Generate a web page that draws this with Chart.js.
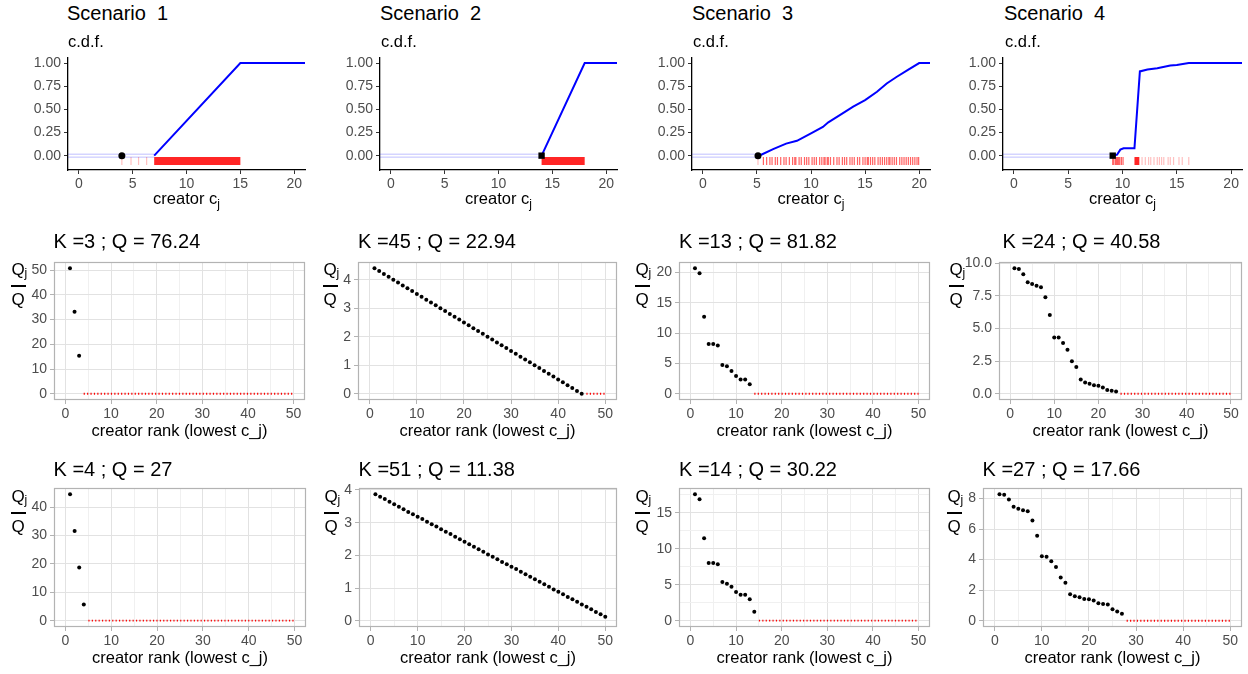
<!DOCTYPE html>
<html>
<head>
<title>Scenarios: c.d.f. and creator shares</title>
<style>
  body { margin: 0; background: #fff; font-family: "Liberation Sans", Arial, Helvetica, sans-serif; }
  #page { position: relative; width: 1248px; height: 674px; overflow: hidden; background: #fff; }
  .box { position: absolute; }
  .txt { position: absolute; line-height: 1; white-space: pre; color: #000; }
  .title { font-size: 20px; }
  .subt { font-size: 16.5px; }
  .axt { font-size: 16.5px; text-align: center; }
  .axt sub { font-size: 12px; vertical-align: -4px; line-height: 0; }
  .fq { font-size: 17px; text-align: center; }
  .fj { font-size: 12px; }
  .fbar { position: absolute; height: 1.5px; background: #000; }
</style>
<script src="https://cdn.jsdelivr.net/npm/chart.js"></script>
</head>
<body>
<div id="page"></div>
<script>
// ---------- data: top row (c.d.f. of creator costs) ----------
const scenarioNames = ['Scenario  1', 'Scenario  2', 'Scenario  3', 'Scenario  4'];
const cdfXTicks = [0, 5, 10, 15, 20];
const cdfYTicks = [0, 0.25, 0.5, 0.75, 1];

const cdf1X = [7, 15, 21];
const cdf1Y = [0, 1, 1];
const start1 = 4;
const rug1Pale = [4.0, 4.85, 5.55, 6.3];
const rug1Dense = [];
const rug1Block = [7, 15];

const cdf2X = [14, 18, 21];
const cdf2Y = [0, 1, 1];
const start2 = 14;
const rug2Pale = [];
const rug2Dense = [];
const rug2Block = [14, 18];

const cdf3X = [5.1, 5.4, 6.5, 7.7, 8.7, 10, 11.1, 11.6, 12.7, 13.9, 15, 16.1, 17, 17.9, 19, 20, 21];
const cdf3Y = [0, 0.01, 0.07, 0.13, 0.16, 0.24, 0.31, 0.36, 0.44, 0.53, 0.6, 0.69, 0.78, 0.85, 0.93, 1, 1];
const start3 = 5.1;
const rug3Pale = [5.1];
const rug3Dense = [5.6, 5.9, 6.2, 6.4, 6.7, 6.9, 7.2, 7.5, 7.7, 8.0, 8.3, 8.5, 8.6, 8.9, 9.1, 9.4, 9.6, 9.8,
  10.1, 10.3, 10.5, 10.8, 11.0, 11.2, 11.3, 11.5, 11.6, 11.8, 12.1, 12.4, 12.6, 12.9, 13.1, 13.3, 13.6,
  13.8, 14.0, 14.3, 14.5, 14.8, 15.0, 15.2, 15.3, 15.5, 15.7, 15.9, 16.2, 16.4, 16.6, 16.8, 17.0, 17.2,
  17.3, 17.5, 17.7, 17.9, 18.2, 18.4, 18.6, 18.8, 19.0, 19.2, 19.4, 19.6, 19.8, 19.95];
const rug3Block = null;

const cdf4X = [9.1, 9.5, 9.8, 10.1, 11.1, 11.6, 12.3, 13.2, 14.4, 15, 16.1, 21];
const cdf4Y = [0, 0.01, 0.065, 0.08, 0.08, 0.91, 0.93, 0.945, 0.975, 0.98, 1, 1];
const start4 = 9.1;
const rug4Pale = [11.8, 12.1, 12.4, 12.6, 12.9, 13.2, 13.4, 13.6, 13.8, 14.2, 14.4, 14.7, 15.2, 15.5, 16.1];
const rug4Dense = [9.1, 9.2, 9.35, 9.45, 9.55, 9.65, 9.75, 9.9, 10.05];
const rug4Block = [11.1, 11.55];

// ---------- data: middle and bottom rows (Q_j / Q by creator rank) ----------
const rankMajor = [0, 10, 20, 30, 40, 50];
const rankMinor = [5, 15, 25, 35, 45];
const maxRank = 50;

const titlesMid = ['K =3 ; Q = 76.24', 'K =45 ; Q = 22.94', 'K =13 ; Q = 81.82', 'K =24 ; Q = 40.58'];
const titlesLow = ['K =4 ; Q = 27', 'K =51 ; Q = 11.38', 'K =14 ; Q = 30.22', 'K =27 ; Q = 17.66'];
const kMid = [3, 45, 13, 24];
const kLow = [4, 51, 14, 27];

const shareMid1 = [50.8, 33.2, 15.4];
const shareMid2 = [4.4, 4.3, 4.2, 4.1, 4.0, 3.9, 3.8, 3.7, 3.6, 3.5, 3.4, 3.3, 3.2, 3.1, 3.0, 2.9, 2.8, 2.7,
  2.6, 2.5, 2.4, 2.3, 2.2, 2.1, 2.0, 1.9, 1.8, 1.7, 1.6, 1.5, 1.4, 1.3, 1.2, 1.1, 1.0, 0.9, 0.8, 0.7, 0.6,
  0.5, 0.4, 0.3, 0.2, 0.1, 0.0];
const shareMid3 = [20.7, 19.9, 12.7, 8.2, 8.2, 7.96, 4.74, 4.52, 3.76, 2.94, 2.34, 2.34, 1.58];
const shareMid4 = [9.62, 9.57, 9.17, 8.54, 8.41, 8.28, 8.16, 7.4, 6.04, 4.32, 4.32, 3.89, 3.38, 2.5, 2.05,
  1.09, 0.86, 0.76, 0.66, 0.61, 0.48, 0.28, 0.23, 0.18];

const shareLow1 = [44.5, 31.6, 18.7, 5.7];
const shareLow2 = [3.87, 3.79, 3.72, 3.64, 3.56, 3.49, 3.41, 3.33, 3.26, 3.18, 3.11, 3.03, 2.95, 2.88, 2.80,
  2.72, 2.65, 2.57, 2.49, 2.42, 2.34, 2.26, 2.19, 2.11, 2.03, 1.96, 1.88, 1.80, 1.73, 1.65, 1.58, 1.50, 1.42,
  1.35, 1.27, 1.19, 1.12, 1.04, 0.96, 0.89, 0.81, 0.73, 0.66, 0.58, 0.50, 0.43, 0.35, 0.27, 0.20, 0.12];
const shareLow3 = [17.57, 16.88, 11.47, 8.03, 8.03, 7.84, 5.37, 5.14, 4.72, 3.99, 3.62, 3.62, 2.98, 1.24];
const shareLow4 = [8.28, 8.24, 7.94, 7.46, 7.33, 7.24, 7.16, 6.57, 5.56, 4.22, 4.19, 3.89, 3.52, 2.83, 2.49,
  1.73, 1.6, 1.54, 1.43, 1.41, 1.32, 1.15, 1.1, 1.06, 0.76, 0.61, 0.45];

const yMajorMid = [[0, 10, 20, 30, 40, 50], [0, 1, 2, 3, 4], [0, 5, 10, 15, 20], [0, 2.5, 5, 7.5, 10]];
const yMinorMid = [[5, 15, 25, 35, 45], [0.5, 1.5, 2.5, 3.5, 4.5], [2.5, 7.5, 12.5, 17.5], [1.25, 3.75, 6.25, 8.75]];
const yMajorLow = [[0, 10, 20, 30, 40], [0, 1, 2, 3, 4], [0, 5, 10, 15], [0, 2, 4, 6, 8]];
const yMinorLow = [[5, 15, 25, 35, 45], [0.5, 1.5, 2.5, 3.5], [2.5, 7.5, 12.5, 17.5], [1, 3, 5, 7]];

// ---------- setup ----------
Chart.defaults.font.family = '"Liberation Sans", Arial, Helvetica, sans-serif';
Chart.defaults.font.size = 14;
Chart.defaults.color = '#4D4D4D';
Chart.defaults.animation = false;
Chart.defaults.plugins.legend.display = false;
Chart.defaults.plugins.tooltip.enabled = false;

const page = document.getElementById('page');
const PAD = 14;
const RUG_Y = -0.058;

const frame = {
  id: 'frame',
  afterDraw(chart) {
    const a = chart.chartArea, ctx = chart.ctx;
    ctx.save();
    ctx.strokeStyle = '#B3B3B3';
    ctx.lineWidth = 1.2;
    ctx.strokeRect(Math.round(a.left) + 0.5, Math.round(a.top) + 0.5,
      Math.round(a.right - a.left) - 1, Math.round(a.bottom - a.top) - 1);
    ctx.restore();
  }
};

function addText(cls, html, left, top, width) {
  const d = document.createElement('div');
  d.className = 'txt ' + cls;
  d.innerHTML = html;
  d.style.left = left + 'px';
  d.style.top = top + 'px';
  if (width) d.style.width = width + 'px';
  page.appendChild(d);
}

function addChart(box, yW, xH, config) {
  const d = document.createElement('div');
  d.className = 'box';
  d.style.left = (box.L - yW) + 'px';
  d.style.top = (box.T - PAD) + 'px';
  d.style.width = (box.R - box.L + yW + PAD) + 'px';
  d.style.height = (box.B - box.T + PAD + xH) + 'px';
  const cv = document.createElement('canvas');
  d.appendChild(cv);
  page.appendChild(d);
  config.options.responsive = true;
  config.options.maintainAspectRatio = false;
  config.options.layout = { padding: { top: PAD, right: PAD, left: 0, bottom: 0 } };
  return new Chart(cv, config);
}

function pts(xs, ys) { return xs.map((v, i) => ({ x: v, y: ys[i] })); }

// ---------- top row ----------
const cdfBoxes = [
  { L: 68, T: 58, R: 305, B: 170 },
  { L: 380, T: 58, R: 617, B: 170 },
  { L: 692, T: 58, R: 930, B: 170 },
  { L: 1003, T: 58, R: 1242, B: 170 }
];
const titleX1 = [67, 380, 692, 1004];
const scen = [
  { x: cdf1X, y: cdf1Y, start: start1, pale: rug1Pale, dense: rug1Dense, block: rug1Block, square: false },
  { x: cdf2X, y: cdf2Y, start: start2, pale: rug2Pale, dense: rug2Dense, block: rug2Block, square: true },
  { x: cdf3X, y: cdf3Y, start: start3, pale: rug3Pale, dense: rug3Dense, block: rug3Block, square: false },
  { x: cdf4X, y: cdf4Y, start: start4, pale: rug4Pale, dense: rug4Dense, block: rug4Block, square: true }
];

function rugSet(vals, color) {
  return { data: vals.map(v => ({ x: v, y: RUG_Y })), pointStyle: 'line', pointRotation: 90, pointRadius: 4,
    pointBorderColor: color, pointBorderWidth: 1.2, pointBackgroundColor: color, showLine: false };
}

scen.forEach((s, i) => {
  const ds = [];
  ds.push({ data: [{ x: s.start, y: 0 }], pointStyle: s.square ? 'rect' : 'circle', pointRadius: s.square ? 4.5 : 3.5,
    pointBackgroundColor: '#000', pointBorderColor: '#000', pointBorderWidth: 0 });
  ds.push({ data: pts(s.x, s.y), showLine: true, borderColor: '#0000FF', borderWidth: 2, pointRadius: 0 });
  [0.016, -0.016].forEach(off => ds.push({ data: [{ x: -1, y: off }, { x: s.x[0], y: off }], showLine: true,
    borderColor: 'rgba(0,0,255,0.25)', borderWidth: 1, pointRadius: 0 }));
  if (s.block) ds.push({ data: [{ x: s.block[0], y: RUG_Y }, { x: s.block[1], y: RUG_Y }], showLine: true,
    borderColor: 'rgba(255,0,0,0.85)', borderWidth: 8, borderCapStyle: 'butt', pointRadius: 0 });
  if (s.dense.length) ds.push(rugSet(s.dense, 'rgba(255,0,0,0.62)'));
  if (s.pale.length) ds.push(rugSet(s.pale, 'rgba(255,0,0,0.25)'));

  addChart(cdfBoxes[i], 45, 24, {
    type: 'scatter',
    data: { datasets: ds },
    options: {
      scales: {
        x: { type: 'linear', min: -1, max: 21,
          afterBuildTicks: sc => { sc.ticks = cdfXTicks.map(v => ({ value: v })); },
          afterFit: sc => { sc.height = 24; },
          ticks: { padding: 2 },
          grid: { drawOnChartArea: false, drawTicks: true, tickLength: 4, tickColor: '#333' },
          border: { display: true, color: '#000', width: 1.3 } },
        y: { type: 'linear', min: -0.155, max: 1.055,
          afterBuildTicks: sc => { sc.ticks = cdfYTicks.map(v => ({ value: v })); },
          afterFit: sc => { sc.width = 45; },
          ticks: { padding: 3, callback: v => v.toFixed(2) },
          grid: { drawOnChartArea: false, drawTicks: true, tickLength: 4, tickColor: '#333' },
          border: { display: true, color: '#000', width: 1.3 } }
      }
    }
  });
});

// ---------- middle and bottom rows ----------
const midBoxes = [
  { L: 54, T: 262, R: 305, B: 400 },
  { L: 358, T: 262, R: 617, B: 400 },
  { L: 679, T: 262, R: 930, B: 400 },
  { L: 999, T: 262, R: 1242, B: 400 }
];
const lowBoxes = [
  { L: 54, T: 488, R: 306, B: 627 },
  { L: 359, T: 488, R: 617, B: 627 },
  { L: 679, T: 488, R: 930, B: 627 },
  { L: 983, T: 488, R: 1242, B: 627 }
];
const yRangeMid = [[-2.54, 53.34], [-0.22, 4.62], [-1.035, 21.74], [-0.48, 10.1]];
const yRangeLow = [[-2.23, 46.73], [-0.19, 4.06], [-0.88, 18.45], [-0.41, 8.69]];
const yDecMid = [0, 0, 0, 1];
const yDecLow = [0, 0, 0, 0];

function near(list, v) { return list.some(m => Math.abs(m - v) < 1e-6); }

function qPanel(box, vals, K, range, major, minor, dec) {
  const ds = [];
  ds.push({ data: vals.map((v, i) => ({ x: i + 1, y: v })), pointRadius: 2,
    pointBackgroundColor: '#000', pointBorderColor: '#000', pointBorderWidth: 0 });
  if (K < maxRank) ds.push({ data: [{ x: K + 1, y: 0 }, { x: maxRank, y: 0 }], showLine: true,
    borderColor: '#FF0000', borderWidth: 1.8, borderDash: [1.2, 2.2], pointRadius: 0 });
  const gridOpts = (maj) => ({
    color: c => (c.tick && !near(maj, c.tick.value)) ? '#F0F0F0' : '#E2E2E2',
    lineWidth: 1,
    drawTicks: true, tickLength: 4,
    tickColor: c => (c.tick && !near(maj, c.tick.value)) ? 'rgba(0,0,0,0)' : '#B3B3B3'
  });
  addChart(box, 40, 24, {
    type: 'scatter',
    data: { datasets: ds },
    options: {
      scales: {
        x: { type: 'linear', min: -2.5, max: 52.5,
          afterBuildTicks: sc => { sc.ticks = rankMajor.concat(rankMinor).sort((a, b) => a - b).map(v => ({ value: v })); },
          afterFit: sc => { sc.height = 24; },
          ticks: { padding: 2, callback: v => near(rankMajor, v) ? String(v) : '' },
          grid: gridOpts(rankMajor), border: { display: false } },
        y: { type: 'linear', min: range[0], max: range[1],
          afterBuildTicks: sc => { sc.ticks = major.concat(minor).sort((a, b) => a - b).map(v => ({ value: v })); },
          afterFit: sc => { sc.width = 40; },
          ticks: { padding: 3, callback: v => near(major, v) ? v.toFixed(dec) : '' },
          grid: gridOpts(major), border: { display: false } }
      }
    },
    plugins: [frame]
  });
}

const sharesMid = [shareMid1, shareMid2, shareMid3, shareMid4];
const sharesLow = [shareLow1, shareLow2, shareLow3, shareLow4];
for (let i = 0; i < 4; i++) {
  qPanel(midBoxes[i], sharesMid[i], kMid[i], yRangeMid[i], yMajorMid[i], yMinorMid[i], yDecMid[i]);
  qPanel(lowBoxes[i], sharesLow[i], kLow[i], yRangeLow[i], yMajorLow[i], yMinorLow[i], yDecLow[i]);
}

// ---------- text ----------
for (let i = 0; i < 4; i++) {
  const b = cdfBoxes[i];
  addText('title', scenarioNames[i], titleX1[i], 3);
  addText('subt', 'c.d.f.', titleX1[i] + 1, 32.7);
  addText('axt', 'creator c<sub>j</sub>', b.L, 190, b.R - b.L);
}

const titleXMid = [53.5, 358, 679, 1002.5];
const titleXLow = [53.5, 358.5, 679, 982.5];
const fracXMid = [18, 330, 642, 956];
const fracXLow = [18, 331, 642, 954];

function addFrac(cx, barY) {
  addText('fq', 'Q', cx - 15, barY - 25, 30);
  addText('fj', 'j', cx + 6.5, barY - 19);
  const bar = document.createElement('div');
  bar.className = 'fbar';
  bar.style.left = (cx - 7.5) + 'px';
  bar.style.top = (barY - 0.75) + 'px';
  bar.style.width = '15px';
  page.appendChild(bar);
  addText('fq', 'Q', cx - 15, barY + 5, 30);
}

for (let i = 0; i < 4; i++) {
  addText('title', titlesMid[i], titleXMid[i], 231);
  addText('axt', 'creator rank (lowest c_j)', midBoxes[i].L, 422, midBoxes[i].R - midBoxes[i].L);
  addFrac(fracXMid[i], 286);
  addText('title', titlesLow[i], titleXLow[i], 459);
  addText('axt', 'creator rank (lowest c_j)', lowBoxes[i].L, 649, lowBoxes[i].R - lowBoxes[i].L);
  addFrac(fracXLow[i], 513);
}
</script>
</body>
</html>
